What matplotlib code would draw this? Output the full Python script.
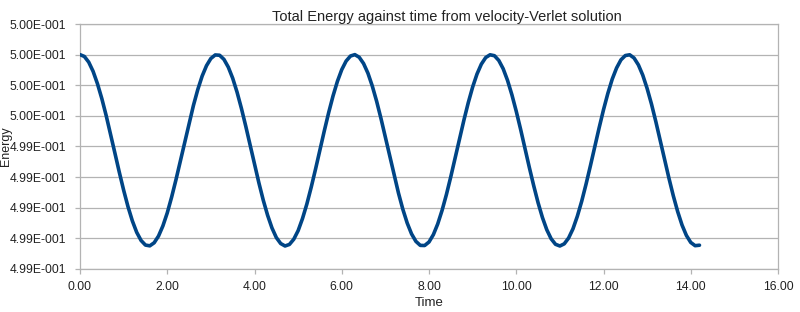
import matplotlib
matplotlib.use('Agg')
import matplotlib.pyplot as plt
import numpy as np
from matplotlib.ticker import FuncFormatter, MultipleLocator

plt.rcParams['font.family'] = ['Liberation Sans', 'DejaVu Sans']

# total energy, one value per time step (dt = 0.1)
time_step = 0.1
energy = [
    0.500000, 0.499988, 0.499951, 0.499891, 0.499810, 0.499713, 0.499602, 0.499481,
    0.499357, 0.499233, 0.499115, 0.499007, 0.498914, 0.498839, 0.498786, 0.498756,
    0.498751, 0.498771, 0.498815, 0.498881, 0.498966, 0.499069, 0.499183, 0.499305,
    0.499430, 0.499552, 0.499668, 0.499772, 0.499860, 0.499928, 0.499975, 0.499998,
    0.499996, 0.499969, 0.499918, 0.499846, 0.499755, 0.499649, 0.499532, 0.499409,
    0.499284, 0.499163, 0.499050, 0.498951, 0.498868, 0.498805, 0.498766, 0.498750,
    0.498760, 0.498794, 0.498850, 0.498929, 0.499024, 0.499134, 0.499253, 0.499378,
    0.499502, 0.499621, 0.499730, 0.499825, 0.499902, 0.499958, 0.499991,
    0.500000, 0.499983, 0.499942, 0.499879, 0.499795, 0.499695, 0.499582, 0.499460,
    0.499336, 0.499213, 0.499096, 0.498990, 0.498900, 0.498829, 0.498780, 0.498754,
    0.498753, 0.498776, 0.498824, 0.498894, 0.498983, 0.499087, 0.499203, 0.499326,
    0.499450, 0.499572, 0.499686, 0.499788, 0.499873, 0.499938, 0.499981, 0.499999,
    0.499993, 0.499962, 0.499908, 0.499832, 0.499738, 0.499630, 0.499512, 0.499388,
    0.499263, 0.499144, 0.499033, 0.498936, 0.498856, 0.498797, 0.498761, 0.498750,
    0.498764, 0.498802, 0.498862, 0.498944, 0.499042, 0.499154, 0.499274, 0.499399,
    0.499522, 0.499640, 0.499747, 0.499840, 0.499913, 0.499966, 0.499994,
    0.499999, 0.499978, 0.499933, 0.499866, 0.499779, 0.499677, 0.499562, 0.499440,
    0.499315, 0.499193, 0.499078, 0.498975, 0.498887, 0.498819, 0.498773, 0.498752,
    0.498755,
]
time = np.arange(len(energy)) * time_step

grid_col = '#b3b3b3'
text_col = '#222222'

fig = plt.figure(figsize=(8.0, 3.12), dpi=100)
ax = fig.add_axes([0.1, 0.138, 0.8725, 0.785])

ax.plot(time, energy, color='#004586', linewidth=2.6, solid_capstyle='round',
        solid_joinstyle='round', zorder=3)

ax.set_xlim(0, 16)
ax.set_ylim(0.4986, 0.5002)
ax.xaxis.set_major_locator(MultipleLocator(2))
ax.yaxis.set_major_locator(MultipleLocator(0.0002))


def sci_label(v, pos):
    if v == 0:
        return '0.00E+000'
    exp = int(np.floor(np.log10(abs(v))))
    mant = v / 10 ** exp
    return '{:.2f}E{:04d}'.format(mant, exp)


ax.yaxis.set_major_formatter(FuncFormatter(sci_label))
ax.xaxis.set_major_formatter(FuncFormatter(lambda v, p: '{:.2f}'.format(v)))

ax.grid(axis='y', color=grid_col, linewidth=0.9)
ax.set_axisbelow(True)
for s in ax.spines.values():
    s.set_color(grid_col)
    s.set_linewidth(0.9)
ax.tick_params(axis='both', colors=grid_col, labelcolor=text_col, labelsize=8.7,
               length=3.5, width=0.9, direction='out')
ax.tick_params(axis='x', pad=5)
ax.tick_params(axis='y', pad=6.5)

ax.set_xlabel('Time', fontsize=9.5, color=text_col, labelpad=3)
fig.text(6 / 800, 1 - 146 / 312, 'Energy', rotation=90, ha='center', va='center',
         fontsize=9, color=text_col)
fig.text(0.559, 0.945, 'Total Energy against time from velocity-Verlet solution',
         ha='center', va='center', fontsize=10.5, color=text_col)

fig.savefig('out.png', dpi=100)
